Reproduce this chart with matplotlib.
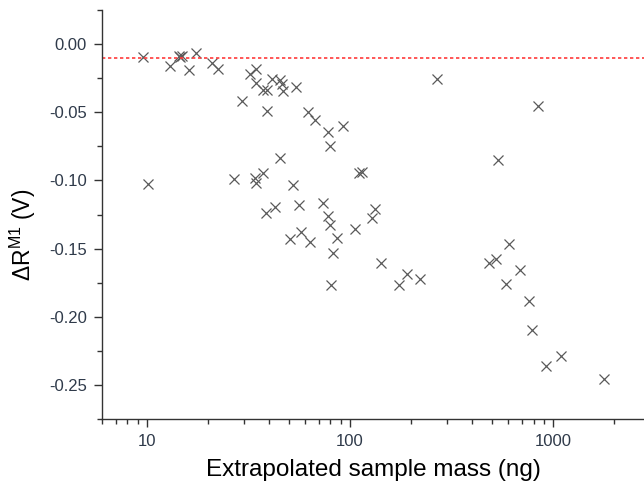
import numpy as np
import matplotlib
matplotlib.use("Agg")
import matplotlib.pyplot as plt
from matplotlib.ticker import LogLocator, MultipleLocator, FixedLocator, NullFormatter

plt.rcParams["font.family"] = "sans-serif"
plt.rcParams["font.sans-serif"] = ["Liberation Sans", "DejaVu Sans"]
plt.rcParams["mathtext.fontset"] = "custom"
plt.rcParams["mathtext.rm"] = "Liberation Sans"
plt.rcParams["mathtext.it"] = "Liberation Sans:italic"

# extrapolated sample mass (ng) and response shift (V)
mass = [9.6, 10.15, 12.9, 14.3, 14.6, 14.9, 16.0, 17.4, 20.8, 22.4,
        26.9, 29.5, 32.0, 34.4, 34.4, 34.1, 34.5, 37.3, 37.3, 38.9,
        38.9, 38.5, 41.1, 42.5, 45.2, 46.0, 46.5, 45.2, 50.5, 52.5,
        54.0, 55.8, 57.5, 62.3, 63.2, 67.5, 73.8, 77.4, 78.2, 79.6,
        79.6, 80.5, 82.8, 86.5, 92.7, 106, 110, 114, 128, 133,
        142, 174, 190, 221, 269, 484, 520, 533, 585, 605,
        690, 758, 782, 843, 922, 1087, 1780]
delta_r = [-0.0095, -0.1026, -0.0159, -0.0090, -0.0098, -0.0085, -0.0190, -0.0068, -0.0142, -0.0183,
           -0.0988, -0.0416, -0.0216, -0.0183, -0.0286, -0.0982, -0.1020, -0.0335, -0.0948, -0.0340,
           -0.0492, -0.1240, -0.0258, -0.1195, -0.0265, -0.0290, -0.0347, -0.0832, -0.1427, -0.1033,
           -0.0316, -0.1180, -0.1375, -0.0497, -0.1450, -0.0558, -0.1166, -0.1258, -0.0648, -0.0746,
           -0.1330, -0.1770, -0.1535, -0.1425, -0.0604, -0.1360, -0.0945, -0.0937, -0.1277, -0.1210,
           -0.1605, -0.1764, -0.1686, -0.1722, -0.0254, -0.1608, -0.1575, -0.0850, -0.1760, -0.1465,
           -0.1654, -0.1887, -0.2094, -0.0457, -0.2363, -0.2290, -0.2458]
threshold = -0.01

fig = plt.figure(figsize=(6.44, 4.86), dpi=100)
ax = fig.add_axes([102 / 644, 67 / 486, 542 / 644, 409 / 486])

ax.plot(mass, delta_r, "x", color="#5a5a5a", ms=6.5, mew=0.9)
ax.axhline(threshold, color="#ff3b3b", lw=1.2, ls=(0, (2, 1.6)))

ax.set_xscale("log")
ax.set_xlim(6, 2800)
ax.set_ylim(-0.275, 0.025)

ax.yaxis.set_major_locator(FixedLocator([0.0, -0.05, -0.10, -0.15, -0.20, -0.25]))
ax.yaxis.set_minor_locator(MultipleLocator(0.025))
ax.set_yticklabels(["0.00", "-0.05", "-0.10", "-0.15", "-0.20", "-0.25"])
ax.xaxis.set_major_locator(FixedLocator([10, 100, 1000]))
ax.set_xticklabels(["10", "100", "1000"])
ax.xaxis.set_minor_locator(LogLocator(base=10, subs=np.arange(2, 10)))
ax.xaxis.set_minor_formatter(NullFormatter())

for side in ["top", "right"]:
    ax.spines[side].set_visible(False)
for side in ["left", "bottom"]:
    ax.spines[side].set_color("#333333")
    ax.spines[side].set_linewidth(1.0)

ax.tick_params(which="major", direction="out", length=6, width=1.0,
               color="#333333", labelsize=12, labelcolor="#2f3a4a", pad=5)
ax.tick_params(which="minor", direction="out", length=3.5, width=1.0, color="#333333")

ax.set_xlabel("Extrapolated sample mass (ng)", fontsize=17.5, labelpad=7)
ax.set_ylabel(r"$\Delta$R$^{\mathrm{M1}}$ (V)", fontsize=16.5)
ax.yaxis.set_label_coords(-0.118, 0.45)

fig.savefig("out.png", dpi=100)
